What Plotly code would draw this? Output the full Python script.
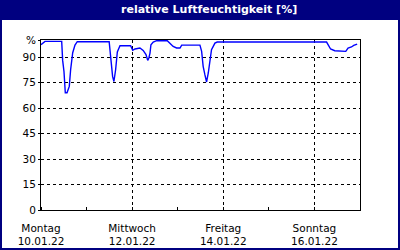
import pandas as pd
import plotly.graph_objects as go

# hours since Monday 10.01.22 00:00
hours = [0, 2.1, 10.9, 11.4, 12.1, 12.8, 13.7, 14.9, 15.6, 16.7, 17.9, 19.1,
         35.9, 36.8, 37.7, 38.4, 39.3, 40.2, 41.6, 47.2, 48.3, 49.5, 52.1,
         53.8, 55.3, 56.2, 56.8, 57.4, 57.9, 59.1, 60.9, 66.5, 67.9, 69.6,
         71.4, 73.2, 74.1, 83.7, 84.6, 85.4, 86.3, 87.2, 88.1, 88.9, 89.8,
         91.6, 92.8, 150.4, 151.2, 152.5, 154.7, 158.3, 160.5, 161.7, 163.5,
         164.7, 166.5]
humidity = [97.2, 99.2, 99.2, 88, 81.5, 69, 69, 72.7, 82.5, 92.5, 97, 99,
            99, 88, 78.6, 75.6, 82.5, 93, 96.6, 96.6, 93.9, 94.7, 95.3,
            93.9, 91.4, 88, 89.4, 92.3, 97.2, 98.8, 99.6, 99.6, 97.8, 96.2,
            95.3, 95.3, 97, 97, 93.3, 84.5, 79.6, 75.3, 80.6, 88.4, 94.3,
            98.2, 98.8, 98.8, 97.2, 94.7, 93.7, 93.3, 93.3, 95.3, 95.9,
            96.8, 97.6]

start = pd.Timestamp("2022-01-10")
times = [start + pd.Timedelta(hours=h) for h in hours]

x_tick_vals = ["2022-01-10", "2022-01-12", "2022-01-14", "2022-01-16"]
x_tick_text = ["Montag<br>10.01.22", "Mittwoch<br>12.01.22",
               "Freitag<br>14.01.22", "Sonntag<br>16.01.22"]
y_tick_vals = [0, 15, 30, 45, 60, 75, 90, 100]
y_tick_text = ["0", "15", "30", "45", "60", "75", "90", "%"]
title = "relative Luftfeuchtigkeit [%]"

navy = "#000080"
font = "DejaVu Sans"

fig = go.Figure()
fig.add_trace(go.Scatter(x=times, y=humidity, mode="lines",
                         line=dict(color="#0000ff", width=1.4),
                         hoverinfo="skip", showlegend=False))

L, R, T, B = 41, 40, 40, 40
W, H = 400, 250
pw, ph = W - L - R, H - T - B


def px(xp):
    return (xp - L) / pw


def py(yp):
    return (H - B - yp) / ph


fig.update_layout(
    width=W, height=H,
    margin=dict(l=L, r=R, t=T, b=B),
    paper_bgcolor="white", plot_bgcolor="white",
    font=dict(family=font, size=10.5, color="black"),
    xaxis=dict(range=["2022-01-10", "2022-01-17"], tickvals=x_tick_vals,
               ticktext=x_tick_text, showgrid=True, gridcolor="black",
               griddash="3px,3px", gridwidth=1, showline=True, linecolor="black",
               linewidth=1, mirror=True, ticks="", zeroline=False,
               automargin=False,
               tickfont=dict(size=10.5), ticklabelstandoff=8,
               minor=dict(dtick=86400000, ticks="inside", ticklen=3,
                          tickcolor="black", showgrid=False)),
    yaxis=dict(range=[0, 100], tickvals=y_tick_vals, ticktext=y_tick_text,
               showgrid=True, gridcolor="black", griddash="3px,3px",
               gridwidth=1, showline=True, linecolor="black", linewidth=1,
               mirror=True, ticks="outside", ticklen=2, tickcolor="black",
               zeroline=False, automargin=False, tickfont=dict(size=10.5)),
    shapes=[
        dict(type="rect", xref="paper", yref="paper",
             x0=px(0), x1=px(W), y0=py(0), y1=py(20),
             fillcolor=navy, line=dict(width=0), layer="above"),
        dict(type="rect", xref="paper", yref="paper",
             x0=px(1), x1=px(W - 1), y0=py(1), y1=py(H - 1),
             line=dict(color=navy, width=2), layer="above"),
    ],
    annotations=[
        dict(text="<b>" + title + "</b>", xref="paper", yref="paper",
             x=px(209), y=py(10), xanchor="center", yanchor="middle",
             showarrow=False, font=dict(color="white", size=11, family=font)),
    ],
)

fig.write_html("out.html")
